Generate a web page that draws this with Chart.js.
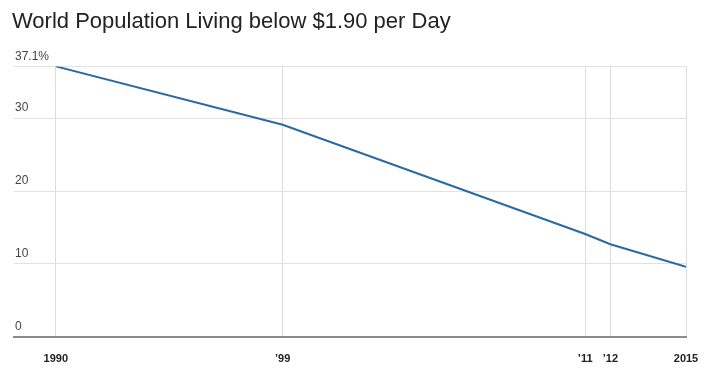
<!DOCTYPE html>
<html>
<head>
<meta charset="utf-8">
<script src="https://cdn.jsdelivr.net/npm/chart.js@4"></script>
<style>
html,body{margin:0;padding:0;background:#fff;}
canvas{display:block;}
</style>
</head>
<body>
<canvas id="c" width="716" height="380"></canvas>
<script>
// Data
const years = [1990, 1999, 2011, 2012, 2015];
const povertyRate = [37.1, 29.1, 14.1, 12.7, 9.6];
const xTickLabels = ["1990", "\u201999", "\u201911", "\u201912", "2015"];
const yTickValues = [0, 10, 20, 30, 37.1];
const yTickLabels = ["0", "10", "20", "30", "37.1%"];
const chartTitle = "World Population Living below $1.90 per Day";

const FONT = "'Liberation Sans', Arial, sans-serif";

new Chart(document.getElementById('c'), {
  type: 'line',
  data: {
    datasets: [{
      data: years.map((y, i) => ({ x: y, y: povertyRate[i] })),
      borderColor: '#2a6aa2',
      borderWidth: 2,
      pointRadius: 0,
      tension: 0,
      fill: false
    }]
  },
  options: {
    responsive: false,
    animation: false,
    layout: { padding: { left: 12, right: 30, bottom: -2, top: 0 } },
    plugins: {
      legend: { display: false },
      tooltip: { enabled: false },
      title: {
        display: true,
        text: chartTitle,
        align: 'start',
        color: '#222',
        font: { family: FONT, size: 22, weight: 'normal' },
        padding: { top: 9, bottom: 31 }
      }
    },
    scales: {
      x: {
        type: 'linear',
        min: 1988.34,
        max: 2015,
        afterBuildTicks: (scale) => { scale.ticks = years.map(v => ({ value: v })); },
        ticks: {
          autoSkip: false,
          maxRotation: 0,
          color: '#222',
          padding: 16,
          font: { family: FONT, size: 11, weight: 'bold' },
          callback: (v, i) => xTickLabels[i]
        },
        grid: { color: '#dcdcdc', lineWidth: 1, drawTicks: false },
        border: { display: true, color: '#8c8c8c', width: 2 }
      },
      y: {
        min: 0,
        max: 37.1,
        afterBuildTicks: (scale) => { scale.ticks = yTickValues.map(v => ({ value: v })); },
        ticks: {
          mirror: true,
          padding: 1,
          labelOffset: -10,
          color: '#444',
          font: { family: FONT, size: 12 },
          callback: (v, i) => yTickLabels[i]
        },
        grid: { color: '#e2e2e2', lineWidth: 1, drawTicks: false },
        border: { display: false }
      }
    }
  }
});
</script>
</body>
</html>
